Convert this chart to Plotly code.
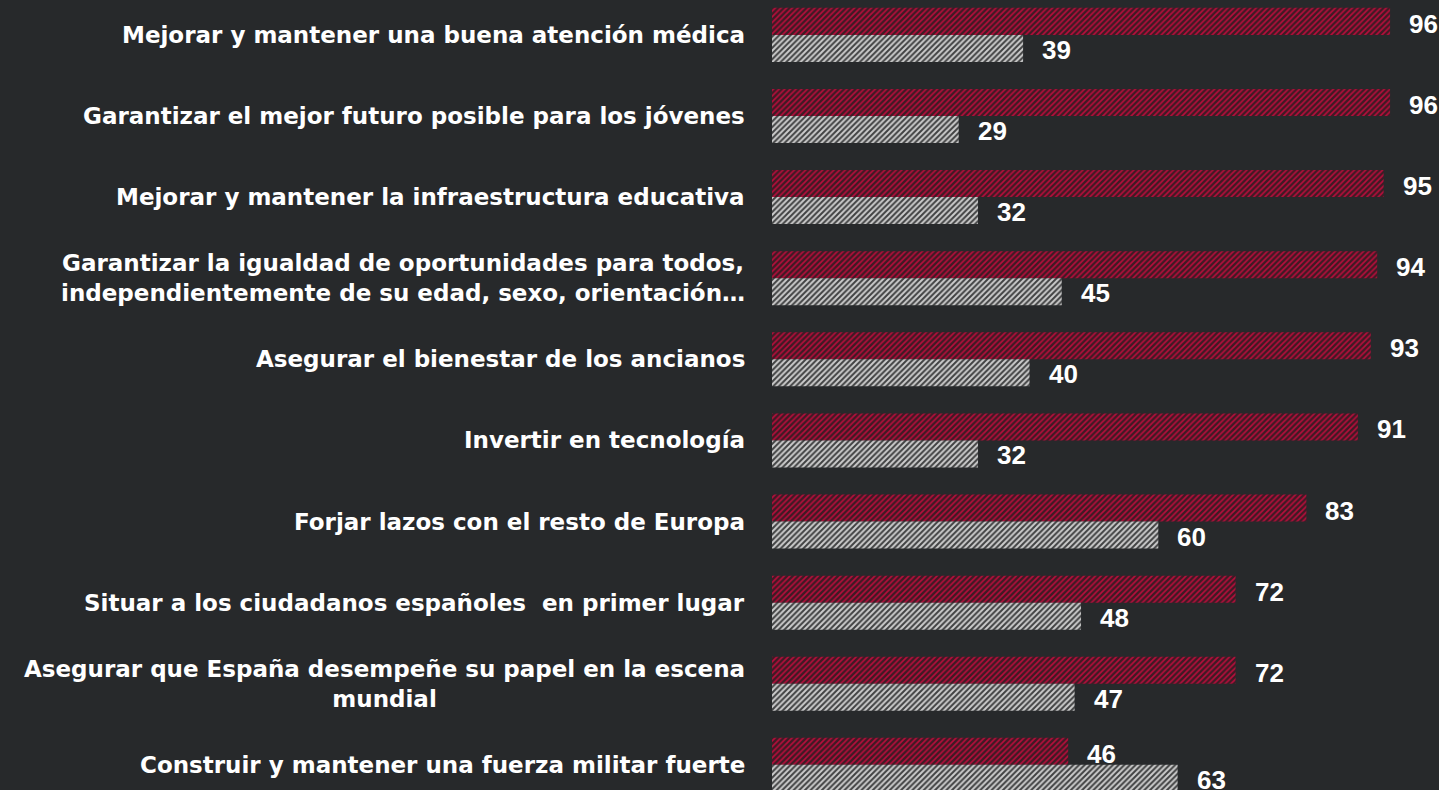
import plotly.graph_objects as go

categories = [
    "Mejorar y mantener una buena atención médica",
    "Garantizar el mejor futuro posible para los jóvenes",
    "Mejorar y mantener la infraestructura educativa",
    "Garantizar la igualdad de oportunidades para todos,<br>independientemente de su edad, sexo, orientación…",
    "Asegurar el bienestar de los ancianos",
    "Invertir en tecnología",
    "Forjar lazos con el resto de Europa",
    "Situar a los ciudadanos españoles  en primer lugar",
    "Asegurar que España desempeñe su papel en la escena<br>mundial",
    "Construir y mantener una fuerza militar fuerte",
]
series_red = [96, 96, 95, 94, 93, 91, 83, 72, 72, 46]
series_gray = [39, 29, 32, 45, 40, 32, 60, 48, 47, 63]

BG = "#27292b"
FONT = "DejaVu Sans"
NUM_FONT = "Liberation Sans"

fig = go.Figure()
fig.add_trace(go.Bar(
    y=categories, x=series_red, orientation="h", name="red",
    marker=dict(color="#6e1430", line_width=0,
                pattern=dict(shape="/", size=4, solidity=0.4,
                             fgcolor="#b80e3c", bgcolor="#3e1a24", fillmode="replace")),
    hoverinfo="skip",
))
fig.add_trace(go.Bar(
    y=categories, x=series_gray, orientation="h", name="gray",
    marker=dict(color="#8a8a8a", line_width=0,
                pattern=dict(shape="/", size=4, solidity=0.5,
                             fgcolor="#cccccc", bgcolor="#404142", fillmode="replace")),
    hoverinfo="skip",
))

annotations = []
for c, r, g in zip(categories, series_red, series_gray):
    annotations.append(dict(
        x=0, xref="paper", y=c, yref="y", text=c, showarrow=False,
        xanchor="right", yanchor="middle", xshift=-25, align="center",
        font=dict(family=FONT, size=23, color="#ffffff", weight="bold"),
    ))
    annotations.append(dict(
        x=r, xref="x", y=c, yref="y", text=str(r), showarrow=False,
        xanchor="left", yanchor="middle", xshift=17, yshift=11,
        font=dict(family=NUM_FONT, size=26, color="#ffffff", weight="bold"),
    ))
    annotations.append(dict(
        x=g, xref="x", y=c, yref="y", text=str(g), showarrow=False,
        xanchor="left", yanchor="middle", xshift=17, yshift=-15,
        font=dict(family=NUM_FONT, size=26, color="#ffffff", weight="bold"),
    ))

fig.update_layout(
    width=1439, height=790,
    margin=dict(l=772, r=0, t=0, b=0),
    paper_bgcolor=BG, plot_bgcolor=BG,
    barmode="group", bargap=0.334, bargroupgap=0,
    showlegend=False,
    annotations=annotations,
    xaxis=dict(range=[0, 103.6], visible=False, showgrid=False, zeroline=False),
    yaxis=dict(range=[9.31, -0.43], showticklabels=False, showgrid=False,
               zeroline=False, showline=False, ticks=""),
)

fig.write_html(
    "out.html",
    config={"displayModeBar": False},
    post_script="document.body.style.margin='0';document.body.style.background='#27292b';",
)
